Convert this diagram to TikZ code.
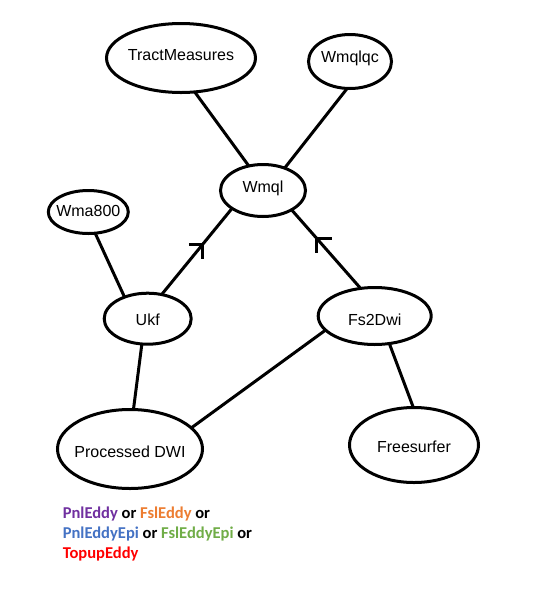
\documentclass[tikz,border=0pt]{standalone}
\usepackage{fontspec}
\setmainfont{Liberation Sans}
\newfontfamily\calib{Carlito}
\usetikzlibrary{shapes.geometric,calc}
\def\u{0.75pt}
\definecolor{cpurple}{HTML}{7030A0}
\definecolor{corange}{HTML}{ED7D31}
\definecolor{cblue}{HTML}{4472C4}
\definecolor{cgreen}{HTML}{70AD47}
\definecolor{cred}{HTML}{FF0000}
\tikzset{
  oval/.style={ellipse, draw=black, line width=3*\u, inner sep=0pt, outer sep=0pt},
  txt/.style={font=\fontsize{12}{14}\selectfont, text=black, inner sep=0pt},
  edge/.style={draw=black, line width=3*\u},
  tick/.style={draw=black, line width=3*\u},
}
\begin{document}
\begin{tikzpicture}[x=\u, y=-\u]
\fill[white] (0,0) rectangle (541,608);
\useasboundingbox (0,0) rectangle (541,608);

\node[oval, minimum width=149*\u, minimum height=69*\u, label={[txt, yshift=3*\u]center:TractMeasures}] (tm) at (181,58) {};
\node[oval, minimum width=83*\u, minimum height=54*\u, label={[txt, yshift=3.5*\u]center:Wmqlqc}] (wq) at (350,61.5) {};
\node[oval, minimum width=85*\u, minimum height=52*\u, label={[txt, yshift=2.5*\u]center:Wmql}] (wm) at (263,190.5) {};
\node[oval, minimum width=80*\u, minimum height=43*\u, label={[txt, yshift=1*\u]center:Wma800}] (w8) at (88.3,212) {};
\node[oval, minimum width=87*\u, minimum height=51*\u, label={[txt, yshift=-1*\u]center:Ukf}] (ukf) at (147.7,318.7) {};
\node[oval, minimum width=113*\u, minimum height=57*\u, label={[txt, yshift=-4*\u]center:Fs2Dwi}] (fs) at (374.7,316) {};
\node[oval, minimum width=145*\u, minimum height=79*\u, label={[txt, yshift=-3*\u]center:Processed DWI}] (pd) at (130,449) {};
\node[oval, minimum width=129*\u, minimum height=75*\u, label={[txt, yshift=-2*\u]center:Freesurfer}] (fr) at (414,445) {};

\draw[edge] (tm.-68.75) -- (wm.120.5);
\draw[edge] (wq.-96.6) -- (wm.46.4);
\draw[edge] (w8.-72.2) -- (ukf.137.6);
\draw[edge] (ukf.60.9) -- (wm.210.1) coordinate[pos=0.584] (m1);
\draw[edge] (fs.117.2) -- (wm.-34.3) coordinate[pos=0.638] (m2);
\draw[edge] (ukf.257.9) -- (pd.85.5);
\draw[edge] (fs.196.8) -- (pd.19.1);
\draw[edge] (fs.-62) -- (fr.91);

\draw[tick] ($(m1)+(-14,0)$) -- ($(m1)+(1.5,0)$) ($(m1)+(0,-1.5)$) -- ++(0,16);
\draw[tick] ($(m2)+(15,0)$) -- ($(m2)+(-1.5,0)$) ($(m2)+(0,-1.5)$) -- ++(0,16);

\node[anchor=north west, align=left, inner sep=0pt, font=\calib\bfseries\fontsize{12.4}{15}\selectfont] (legend) at (62.5,506.5)
  {\textcolor{cpurple}{PnlEddy} or \textcolor{corange}{FslEddy} or\\
   \textcolor{cblue}{PnlEddyEpi} or \textcolor{cgreen}{FslEddyEpi} or\\
   \textcolor{cred}{TopupEddy}};
\end{tikzpicture}
\end{document}
